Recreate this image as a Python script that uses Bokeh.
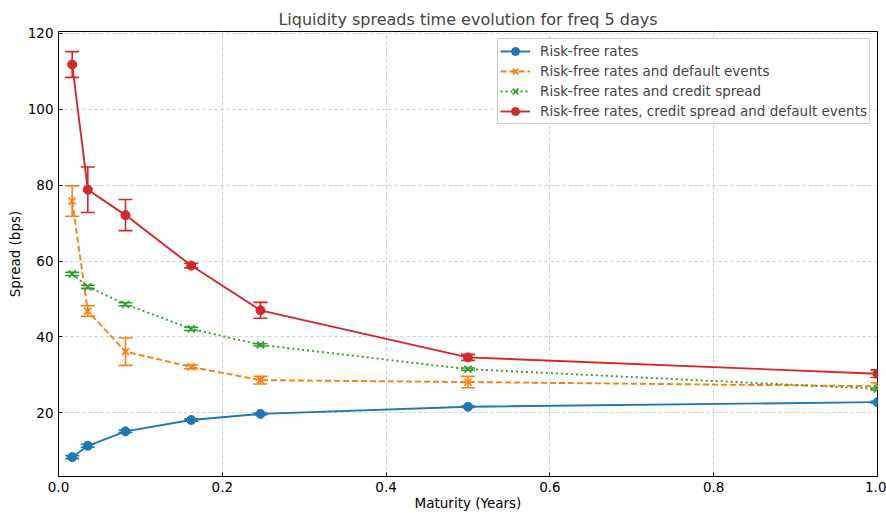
from bokeh.plotting import figure
from bokeh.models import ColumnDataSource, Whisker, TeeHead, Range1d, Legend, LegendItem, FixedTicker
from bokeh.embed import file_html
from bokeh.resources import INLINE

maturity = [0.0167, 0.0358, 0.0818, 0.162, 0.2466, 0.5, 1.0]

rf = [8.3, 11.3, 15.1, 18.1, 19.7, 21.6, 22.8]
rf_err = [0.4, 0.4, 0.3, 0.3, 0.2, 0.2, 0.2]

rf_def = [75.8, 46.8, 36.1, 32.1, 28.6, 28.1, 27.0]
rf_def_err = [4.0, 1.4, 3.6, 0.5, 1.0, 1.5, 0.9]

rf_cs = [56.6, 53.2, 48.6, 42.1, 37.9, 31.5, 26.3]
rf_cs_err = [0.4, 0.4, 0.4, 0.4, 0.3, 0.3, 0.3]

rf_cs_def = [111.8, 78.8, 72.1, 58.8, 47.0, 34.6, 30.3]
rf_cs_def_err = [3.4, 6.0, 4.1, 0.6, 2.1, 0.8, 1.0]

x_ticks = [0.0, 0.2, 0.4, 0.6, 0.8, 1.0]
y_ticks = [20, 40, 60, 80, 100, 120]

series = [
    ("Risk-free rates", rf, rf_err, "#1f77b4", "solid", "circle"),
    ("Risk-free rates and default events", rf_def, rf_def_err, "#ff7f0e", "6 3", "x"),
    ("Risk-free rates and credit spread", rf_cs, rf_cs_err, "#2ca02c", "2 3", "x"),
    ("Risk-free rates, credit spread and default events", rf_cs_def, rf_cs_def_err, "#d62728", "solid", "circle"),
]

FONT = "DejaVu Sans"
FS = "13.5px"

p = figure(width=886, height=513, output_backend="svg", toolbar_location=None,
           x_range=Range1d(0, 1.0), y_range=Range1d(3.2, 120.5),
           min_border_left=58, min_border_right=9, min_border_top=31, min_border_bottom=36,
           background_fill_color="white", border_fill_color="white")

p.title.text = "Liquidity spreads time evolution for freq 5 days"
p.title.align = "center"
p.title.text_font = FONT
p.title.text_font_size = "16px"
p.title.text_font_style = "normal"
p.title.standoff = 5

p.outline_line_color = "black"
p.outline_line_width = 1
p.outline_line_alpha = 1

for ax in (p.xaxis, p.yaxis):
    ax.major_tick_in = 4
    ax.major_tick_out = 0
    ax.minor_tick_line_color = None
    ax.axis_line_color = "black"
    ax.major_tick_line_color = "black"
    ax.major_label_text_font = FONT
    ax.major_label_text_font_size = FS
    ax.major_label_text_color = "black"
    ax.axis_label_text_font = FONT
    ax.axis_label_text_font_size = FS
    ax.axis_label_text_font_style = "normal"
    ax.axis_label_text_color = "black"

p.xaxis.ticker = FixedTicker(ticks=x_ticks)
p.yaxis.ticker = FixedTicker(ticks=y_ticks)
p.xaxis.major_label_overrides = {t: f"{t:.1f}" for t in x_ticks}
p.xaxis.axis_label = "Maturity (Years)"
p.yaxis.axis_label = "Spread (bps)"
p.xaxis.major_label_standoff = 5
p.xaxis.axis_label_standoff = 0
p.yaxis.major_label_standoff = 5
p.yaxis.axis_label_standoff = 2

p.grid.grid_line_color = "#cccccc"
p.grid.grid_line_dash = "3 3"
p.grid.grid_line_width = 1

items = []
for name, vals, errs, color, dash, marker in series:
    src = ColumnDataSource(dict(
        x=maturity, y=vals,
        upper=[v + e for v, e in zip(vals, errs)],
        lower=[v - e for v, e in zip(vals, errs)],
    ))
    ln = p.line("x", "y", source=src, line_color=color, line_width=1.9, line_dash=dash)
    w = Whisker(base="x", upper="upper", lower="lower", source=src, dimension="height",
                line_color=color, line_width=1.6, level="glyph",
                upper_head=TeeHead(size=14, line_color=color, line_width=1.6),
                lower_head=TeeHead(size=14, line_color=color, line_width=1.6))
    p.add_layout(w)
    if marker == "circle":
        sc = p.scatter("x", "y", source=src, marker="circle", size=9,
                       fill_color=color, line_color=color, line_width=1)
    else:
        sc = p.scatter("x", "y", source=src, marker="x", size=10,
                       line_color=color, line_width=1.7)
    items.append(LegendItem(label=name, renderers=[ln, sc]))

legend = Legend(items=items, location="top_right",
                label_text_font=FONT, label_text_font_size=FS,
                border_line_color="#cccccc", border_line_width=1, border_line_alpha=1,
                background_fill_alpha=0.9, padding=2, spacing=0, margin=7,
                glyph_width=30, glyph_height=20, label_height=20, label_standoff=10)
p.add_layout(legend, "center")

open("out.html", "w").write(file_html(p, INLINE))
